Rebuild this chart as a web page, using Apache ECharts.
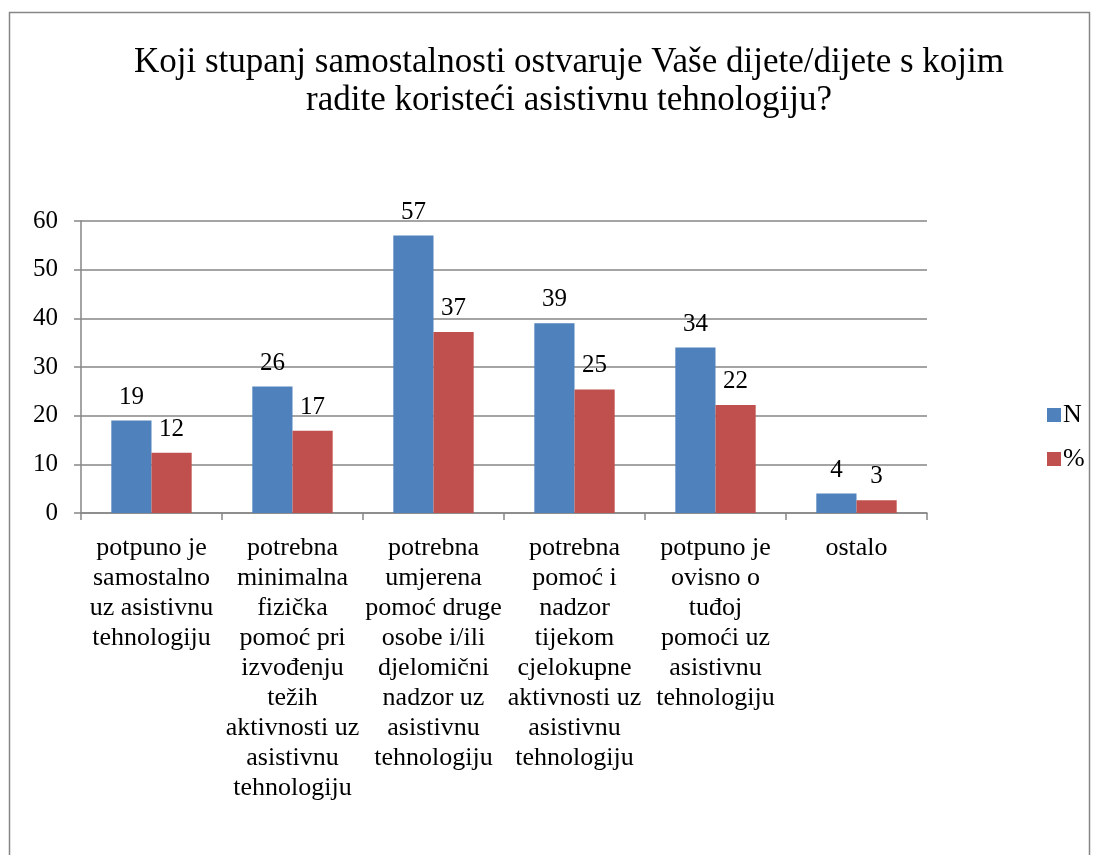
<!DOCTYPE html>
<html><head><meta charset="utf-8">
<style>html,body{margin:0;padding:0;background:#fff}#c{width:1097px;height:855px}</style>
<script src="https://cdn.jsdelivr.net/npm/echarts@6/dist/echarts.min.js"></script>
</head><body><div id="c"></div>
<script>
var categories = [
  "potpuno je\nsamostalno\nuz asistivnu\ntehnologiju",
  "potrebna\nminimalna\nfizička\npomoć pri\nizvođenju\ntežih\naktivnosti uz\nasistivnu\ntehnologiju",
  "potrebna\numjerena\npomoć druge\nosobe i/ili\ndjelomični\nnadzor uz\nasistivnu\ntehnologiju",
  "potrebna\npomoć i\nnadzor\ntijekom\ncjelokupne\naktivnosti uz\nasistivnu\ntehnologiju",
  "potpuno je\novisno o\ntuđoj\npomoći uz\nasistivnu\ntehnologiju",
  "ostalo"
];
var seriesN = [19, 26, 57, 39, 34, 4];
var seriesPct = [12.4, 16.9, 37.2, 25.4, 22.2, 2.6];
var yTicks = [0, 10, 20, 30, 40, 50, 60];
var titleText = "Koji stupanj samostalnosti ostvaruje Vaše dijete/dijete s kojim\nradite koristeći asistivnu tehnologiju?";

var FONT = '"Liberation Serif", "Times New Roman", serif';
var chart = echarts.init(document.getElementById('c'));
var lbl = {
  show: true, position: 'top', distance: 11,
  fontFamily: FONT, fontSize: 25, color: '#000',
  formatter: function (p) { return Math.round(p.value); }
};
chart.setOption({
  animation: false,
  textStyle: { fontFamily: FONT },
  graphic: [{
    type: 'rect', shape: { x: 9.5, y: 12.5, width: 1080, height: 860 },
    style: { fill: 'none', stroke: '#868686', lineWidth: 1.5 }, z: -1
  }],
  title: {
    text: titleText, left: 564, top: 39, textAlign: 'center',
    textStyle: { fontFamily: FONT, fontSize: 35, fontWeight: 'normal', color: '#000', lineHeight: 38 }
  },
  legend: {
    orient: 'vertical', left: 1042, top: 397, itemGap: 18,
    itemWidth: 14, itemHeight: 14, icon: 'rect',
    textStyle: { fontFamily: FONT, fontSize: 26, color: '#000', padding: [0, 0, 0, -3] },
    data: ['N', '%']
  },
  grid: { left: 81, top: 221, right: 170, bottom: 342, containLabel: false },
  xAxis: {
    type: 'category', data: categories,
    axisLine: { lineStyle: { color: '#868686', width: 1.5 } },
    axisTick: { show: true, alignWithLabel: false, length: 7, lineStyle: { color: '#868686', width: 1.5 } },
    axisLabel: { interval: 0, margin: 20, fontFamily: FONT, fontSize: 26, color: '#000', lineHeight: 30, align: 'center' }
  },
  yAxis: {
    type: 'value', min: 0, max: 60, interval: 10,
    axisLine: { show: true, lineStyle: { color: '#868686', width: 1.5 } },
    axisTick: { show: true, length: 7, lineStyle: { color: '#868686', width: 1.5 } },
    splitLine: { show: true, lineStyle: { color: '#868686', width: 1.5 } },
    axisLabel: {
      margin: 23, fontFamily: FONT, fontSize: 25, color: '#000',
      formatter: function (v) { return yTicks.indexOf(v) >= 0 ? String(v) : ''; }
    }
  },
  series: [
    { name: 'N', type: 'bar', data: seriesN, barGap: '0%', barCategoryGap: '43%',
      itemStyle: { color: '#4f81bd' }, label: lbl },
    { name: '%', type: 'bar', data: seriesPct,
      itemStyle: { color: '#c0504d' }, label: lbl }
  ]
});
</script></body></html>
